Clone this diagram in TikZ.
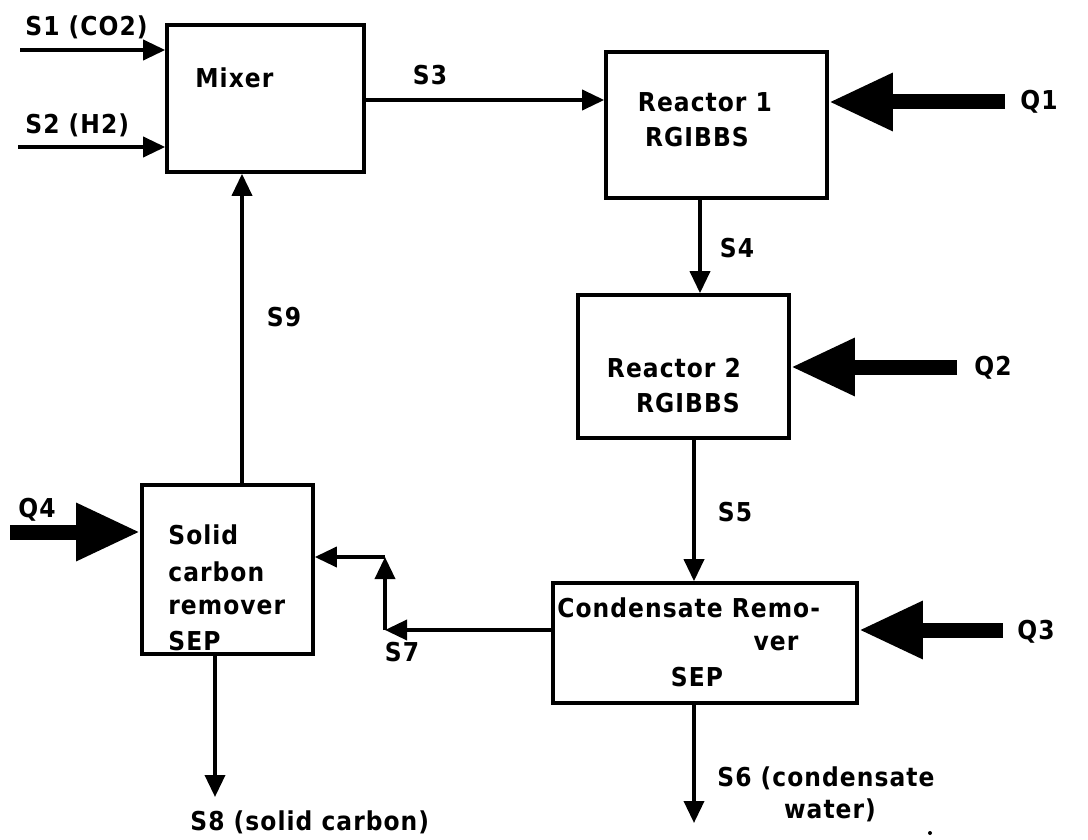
\documentclass[tikz,border=0pt]{standalone}
\usepackage{fontspec}
\newfontfamily\diag{DejaVu Sans Condensed}[LetterSpace=4]
\usetikzlibrary{arrows.meta}
\tikzset{
  unitbox/.style={draw, line width=1.8pt, inner sep=0pt},
  flow/.style={line width=1.8pt, -{Triangle[length=11pt,width=10pt]}},
  heat/.style={line width=7.5pt, -{Triangle[length=32pt,width=27pt]}},
  lbl/.style={font={\diag\bfseries\fontsize{13}{15}\selectfont}, inner sep=0pt},
}
\begin{document}
\begin{tikzpicture}[x=0.5pt,y=-0.5pt]
\useasboundingbox (0,0) rectangle (1088,840);
% unit boxes
\node[unitbox, minimum width=98.5pt, minimum height=73.5pt] (mixer) at (265.5,98.5) {};
\node[unitbox, minimum width=110.5pt, minimum height=73pt] (r1) at (716.5,125) {};
\node[unitbox, minimum width=105.5pt, minimum height=71.5pt] (r2) at (683.5,366.5) {};
\node[unitbox, minimum width=152pt, minimum height=60pt] (cond) at (705,643) {};
\node[unitbox, minimum width=85.5pt, minimum height=84.5pt] (carbon) at (227.5,569.5) {};
% box texts
\node[lbl, anchor=west] (tmixer) at (195,78) {Mixer};
\node[lbl] (tr1a) at (705,102) {Reactor 1};
\node[lbl] (tr1b) at (697,137) {RGIBBS};
\node[lbl] (tr2a) at (674,368) {Reactor 2};
\node[lbl] (tr2b) at (688,403) {RGIBBS};
\node[lbl, anchor=west] (tconda) at (557,608) {Condensate Remo-};
\node[lbl] (tcondb) at (776,643) {ver};
\node[lbl] (tcondc) at (697,677) {SEP};
\node[lbl, anchor=west] (tca) at (168,535) {Solid};
\node[lbl, anchor=west] (tcb) at (168,572) {carbon};
\node[lbl, anchor=west] (tcc) at (168,607) {remover};
\node[lbl, anchor=west] (tcd) at (168,641) {SEP};
% coordinates
\coordinate (s1s) at (20,50);
\coordinate (s2s) at (18,147);
\coordinate (x4) at (700,0);
\coordinate (x5) at (694,0);
\coordinate (s6e) at (694,823);
\coordinate (x9) at (242,0);
\coordinate (s8e) at (215,797);
\coordinate (j1) at (385,630);
\coordinate (j2) at (385,557);
\coordinate (q1s) at (1005,102);
\coordinate (q2s) at (957,367);
\coordinate (q3s) at (1003,630);
\coordinate (q4s) at (10,532);
% streams
\draw[flow] (s1s) -- (s1s -| mixer.west);
\draw[flow] (s2s) -- (s2s -| mixer.west);
\draw[flow] (mixer.east |- 0,100) -- (r1.west |- 0,100);
\draw[flow] (r1.south -| x4) -- (r2.north -| x4);
\draw[flow] (r2.south -| x5) -- (cond.north -| x5);
\draw[flow] (cond.south -| x5) -- (s6e);
\draw[flow] (cond.west |- j1) -- (j1);
\draw[flow] (j1) -- (j2);
\draw[flow] (j2) -- (carbon.east |- j2);
\draw[flow] (carbon.south -| s8e) -- (s8e);
\draw[flow] (carbon.north -| x9) -- (mixer.south -| x9);
% heat streams
\draw[heat] (q1s) -- (q1s -| r1.east);
\draw[heat] (q2s) -- (q2s -| r2.east);
\draw[heat] (q3s) -- (q3s -| cond.east);
\draw[heat] (q4s) -- (q4s -| carbon.west);
% labels
\node[lbl, anchor=west] (ls1) at (25,27) {S1 (CO2)};
\node[lbl, anchor=west] (ls2) at (25,125) {S2 (H2)};
\node[lbl] (ls3) at (430,75) {S3};
\node[lbl] (ls4) at (737,248) {S4};
\node[lbl] (ls5) at (735,512) {S5};
\node[lbl, anchor=west] (ls6a) at (717,778) {S6 (condensate};
\node[lbl] (ls6b) at (830,810) {water)};
\node[lbl] (ls7) at (402,652) {S7};
\node[lbl, anchor=west] (ls8) at (190,822) {S8 (solid carbon)};
\node[lbl] (ls9) at (284,317) {S9};
\node[lbl] (lq1) at (1039,102) {Q1};
\node[lbl] (lq2) at (993,368) {Q2};
\node[lbl] (lq3) at (1036,632) {Q3};
\node[lbl] (lq4) at (37,510) {Q4};
\fill (930,833) circle (1pt);
\end{tikzpicture}
\end{document}
